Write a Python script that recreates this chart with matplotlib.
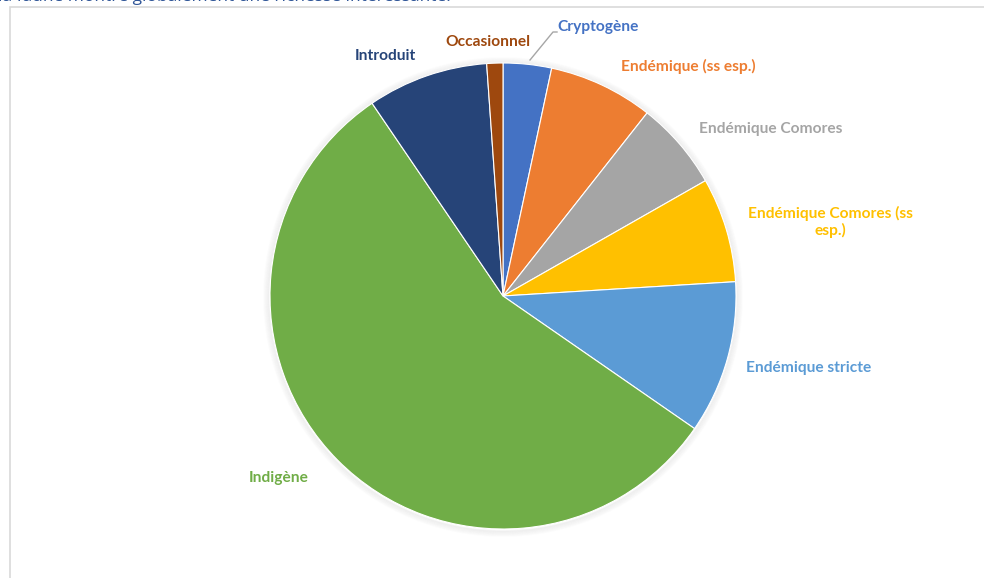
import matplotlib
matplotlib.use("Agg")
import matplotlib.pyplot as plt
from matplotlib.patches import Rectangle, Circle

# Statut des espèces recensées (nombre d'espèces par catégorie)
categories = ["Cryptogène", "Endémique (ss esp.)", "Endémique Comores",
              "Endémique Comores (ss esp.)", "Endémique stricte", "Indigène",
              "Introduit", "Occasionnel"]
counts = [6, 13, 11, 13, 19, 100, 15, 2]
colors = ["#4472C4", "#ED7D31", "#A5A5A5", "#FFC000", "#5B9BD5", "#70AD47",
          "#264478", "#9E480E"]

label_text = {
    "Endémique Comores (ss esp.)": "Endémique Comores (ss\nesp.)",
}
# label anchor positions, pixel coords from top-left
label_pos = {
    "Cryptogène": (557, 27, "left"),
    "Endémique (ss esp.)": (688, 66, "center"),
    "Endémique Comores": (771, 129, "center"),
    "Endémique Comores (ss esp.)": (830, 222, "center"),
    "Endémique stricte": (809, 368, "center"),
    "Indigène": (279, 478, "center"),
    "Introduit": (385, 56, "center"),
    "Occasionnel": (488, 42, "center"),
}

W, H = 984, 578
fig = plt.figure(figsize=(W / 100, H / 100), dpi=100)
ax = fig.add_axes([0, 0, 1, 1])

cx, cy, r = 503, H - 296, 233

# chart frame
ax.add_patch(Rectangle((10, -20), W + 20, H - 7 + 20, facecolor="white",
                       edgecolor="#D9D9D9", linewidth=1.2, zorder=0))

# soft shadow around the pie
for i in range(6):
    ax.add_patch(Circle((cx, cy - 1), r + 1 + i, facecolor="none",
                        edgecolor="#BFBFBF", linewidth=1.2,
                        alpha=0.16 - i * 0.025, zorder=1))

ax.pie(counts, colors=colors, startangle=90, counterclock=False,
       center=(cx, cy), radius=r, frame=True,
       wedgeprops=dict(edgecolor="white", linewidth=0.8, zorder=2))
ax.set_xlim(0, W)
ax.set_ylim(0, H)
ax.set_aspect("equal")
ax.axis("off")

for name, col in zip(categories, colors):
    x, y, ha = label_pos[name]
    ax.text(x, H - y, label_text.get(name, name), color=col, ha=ha, va="center",
            fontsize=11.2, fontweight="bold", family="Lato", linespacing=1.2,
            zorder=3)

# leader line for the small Cryptogène slice
ax.plot([530, 553, 557], [H - 60, H - 32, H - 32], color="#A6A6A6",
        linewidth=1, zorder=3)

# tail of the paragraph above the chart
fig.text(-0.002, 1 - 1 / H, "la faune montre globalement une richesse intéressante.",
         color="#2F5597", fontsize=12.5, family="Open Sans", va="baseline")

fig.savefig("out.png", dpi=100)
